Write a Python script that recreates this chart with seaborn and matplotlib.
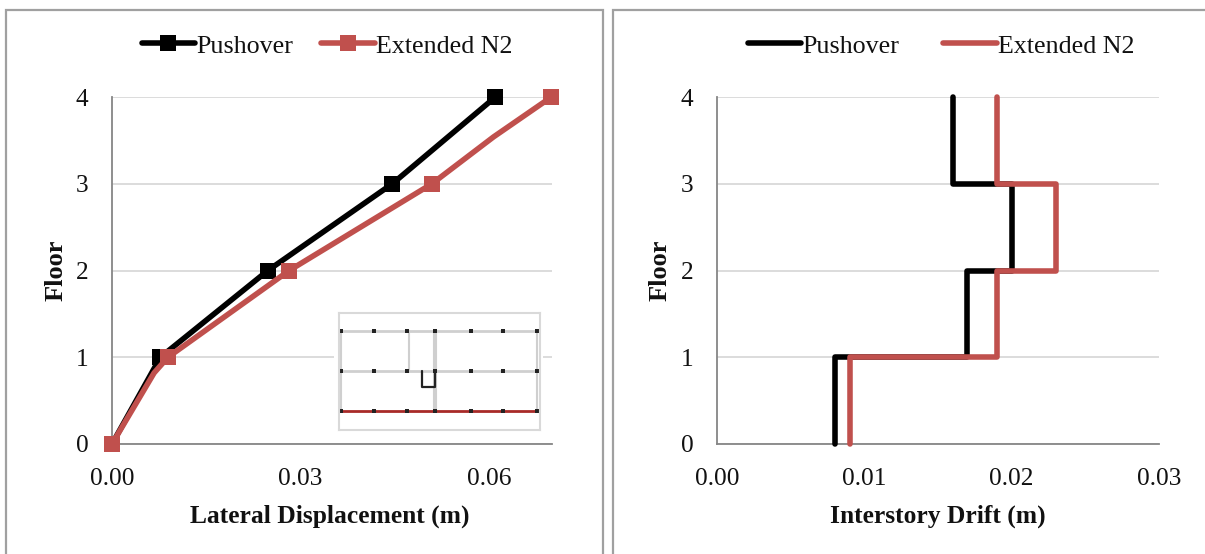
import matplotlib
matplotlib.use("Agg")
import matplotlib.pyplot as plt
from matplotlib.lines import Line2D
from matplotlib.patches import Rectangle
import numpy as np
import pandas as pd
import seaborn as sns

# --- Data ---
FLOORS = [0, 1, 2, 3, 4]
DISP_PUSHOVER = [0.0, 0.0077, 0.0248, 0.0446, 0.0610]
DISP_N2 = [0.0, 0.0089, 0.0282, 0.0509, 0.0699]

N2_CURVE_X = [0.0, 0.0067, 0.0089, 0.0282, 0.0509, 0.0607, 0.0699]
N2_CURVE_Y = [0, 0.82, 1, 2, 3, 3.54, 4]

# interstorey drift per storey (drawn as steps)
DRIFT_PUSHOVER = [0.008, 0.017, 0.020, 0.016]
DRIFT_N2 = [0.009, 0.019, 0.023, 0.019]
STEP_FLOORS = [0, 1, 1, 2, 2, 3, 3, 4]

DISP_TICKS = [0.00, 0.03, 0.06]
DRIFT_TICKS = [0.00, 0.01, 0.02, 0.03]
SERIES = ["Pushover", "Extended N2"]

# small floor plan inset, coordinates in plan units
PLAN_BEAMS_Y = [18, 58]
PLAN_COLS_X = [1.5, 35, 68, 96, 132, 164, 198]
PLAN_WALLS = [([1.5, 1.5], [18, 98]), ([70, 70], [18, 58]), ([95, 95], [18, 98]),
              ([97, 97], [18, 98]), ([198, 198], [18, 98])]
PLAN_CORE_X = [83, 83, 96, 96]
PLAN_CORE_Y = [58, 74, 74, 58]
PLAN_RED_Y = 98

# --- Config ---
W, H = 1205, 554
BLACK = "#000000"
RED = "#C0504D"
GRID = "#D9D9D9"
SPINE = "#868686"
FRAME = "#A0A0A0"
LW = 4.0
MS = 11

sns.set_style("white")
plt.rcParams["font.family"] = ["Liberation Serif", "DejaVu Serif"]


def px_axes(fig, left, top, right, bottom):
    return fig.add_axes([left / W, 1 - bottom / H, (right - left) / W, (bottom - top) / H])


def style_axes(ax, xmax, xticks, xlabel, xlabel_x):
    ax.set_xlim(0, xmax)
    ax.set_ylim(0, 4)
    ax.set_xticks(xticks)
    ax.set_xticklabels(["%.2f" % t for t in xticks])
    ax.set_yticks(FLOORS)
    ax.tick_params(axis="both", length=0, labelsize=18.3, colors="#111111")
    ax.tick_params(axis="x", pad=17.5)
    ax.tick_params(axis="y", pad=17)
    ax.grid(axis="y", color=GRID, lw=1.3)
    ax.grid(axis="x", visible=False)
    ax.set_axisbelow(True)
    for side in ["top", "right"]:
        ax.spines[side].set_visible(False)
    for side in ["left", "bottom"]:
        ax.spines[side].set_color(SPINE)
        ax.spines[side].set_linewidth(1.3)
    ax.set_xlabel(xlabel, fontsize=18.4, fontweight="bold", color="#111111")
    ax.xaxis.set_label_coords(xlabel_x, -0.174)
    ax.set_ylabel("Floor", fontsize=19, fontweight="bold", color="#111111")
    ax.yaxis.set_label_coords(-0.102, 0.5)


fig = plt.figure(figsize=(W / 100, H / 100), dpi=100)

# panel frames, the bottom and right edges run off the picture
fig.add_artist(Rectangle((6 / W, -0.05), 597 / W, 1.05 - 9.5 / H, transform=fig.transFigure,
                         fill=False, ec=FRAME, lw=1.6))
fig.add_artist(Rectangle((613 / W, -0.05), 650 / W, 1.05 - 9.5 / H, transform=fig.transFigure,
                         fill=False, ec=FRAME, lw=1.6))

# --- Left panel: displacement ---
ax1 = px_axes(fig, 112, 97, 552, 444)
sns.lineplot(x=DISP_PUSHOVER, y=FLOORS, color=BLACK, sort=False, estimator=None, lw=LW,
             marker="s", ms=MS, mew=0, clip_on=False, ax=ax1, zorder=5)
sns.lineplot(x=N2_CURVE_X, y=N2_CURVE_Y, color=RED, sort=False, estimator=None, lw=LW,
             clip_on=False, ax=ax1, zorder=6)
sns.lineplot(x=DISP_N2, y=FLOORS, color=RED, sort=False, estimator=None, lw=0,
             marker="s", ms=MS, mew=0, clip_on=False, ax=ax1, zorder=6)
style_axes(ax1, 0.07, DISP_TICKS, "Lateral Displacement (m)", 0.495)

handles1 = [Line2D([], [], color=c, lw=LW, marker="s", ms=MS, mew=0, solid_capstyle="round")
            for c in [BLACK, RED]]
ax1.legend(handles1, SERIES, loc="center", bbox_to_anchor=((327 - 112) / 440, (444 - 46) / 347),
           ncol=2, frameon=False, fontsize=18.7, handlelength=2.05, handletextpad=0.05,
           columnspacing=1.08, borderpad=0, labelcolor="#111111")

# --- Right panel: drift ---
ax2 = px_axes(fig, 717, 97, 1159, 444)
drift = pd.DataFrame({
    "drift": list(np.repeat(DRIFT_PUSHOVER, 2)) + list(np.repeat(DRIFT_N2, 2)),
    "floor": STEP_FLOORS * 2,
    "series": [SERIES[0]] * 8 + [SERIES[1]] * 8,
})
sns.lineplot(data=drift, x="drift", y="floor", hue="series", palette=[BLACK, RED], sort=False,
             estimator=None, lw=LW, ax=ax2, legend=False, clip_on=False, zorder=5,
             solid_joinstyle="round")
style_axes(ax2, 0.03, DRIFT_TICKS, "Interstory Drift (m)", 0.499)

handles2 = [Line2D([], [], color=c, lw=LW, solid_capstyle="round") for c in [BLACK, RED]]
ax2.legend(handles2, SERIES, loc="center", bbox_to_anchor=((941 - 717) / 442, (444 - 46) / 347),
           ncol=2, frameon=False, fontsize=18.7, handlelength=2.05, handletextpad=0.05,
           columnspacing=1.7, borderpad=0, labelcolor="#111111")

# --- Inset floor plan ---
# white patch hides the gridlines behind the plan
fig.add_artist(Rectangle((334 / W, 1 - 432 / H), 209 / W, 122 / H, transform=fig.transFigure,
                         fc="white", ec="none", zorder=3))
ins = px_axes(fig, 339, 313, 540, 430)
ins.set_zorder(4)
ins.set_xlim(0, 201)
ins.set_ylim(117, 0)
ins.set_xticks([])
ins.set_yticks([])
for s in ins.spines.values():
    s.set_color(GRID)
    s.set_linewidth(1.5)
for y in PLAN_BEAMS_Y:
    ins.plot([1.5, 198], [y, y], color="#CFCFCF", lw=2)
for x, y in PLAN_WALLS:
    ins.plot(x, y, color="#CFCFCF", lw=1.5)
ins.plot(PLAN_CORE_X, PLAN_CORE_Y, color="#222222", lw=1.6)
ins.plot([1.5, 198], [PLAN_RED_Y, PLAN_RED_Y], color="#A82A28", lw=2)
for y in PLAN_BEAMS_Y + [PLAN_RED_Y]:
    ins.plot(PLAN_COLS_X, [y] * len(PLAN_COLS_X), ls="none", marker="s", ms=2.6, color="#222222", mew=0)

fig.savefig("out.png", dpi=100)
